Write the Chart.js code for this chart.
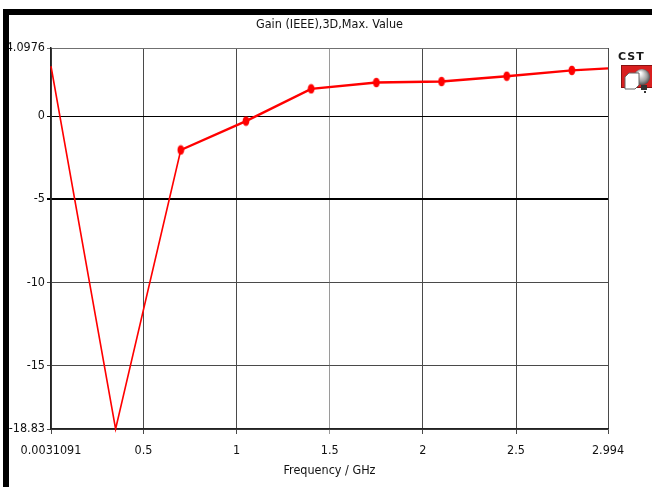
<!DOCTYPE html>
<html>
<head>
<meta charset="utf-8">
<script src="https://cdn.jsdelivr.net/npm/chart.js@4/dist/chart.umd.min.js"></script>
<style>
  html, body { margin: 0; padding: 0; background: #fff; }
  #wrap { position: relative; width: 652px; height: 487px; }
</style>
</head>
<body>
<div id="wrap"><canvas id="c" width="652" height="487"></canvas></div>
<script>
// Gain (IEEE), 3D, max. value versus frequency
const chartTitle = 'Gain (IEEE),3D,Max. Value';
const freqGHz = [0.0031091, 0.35, 0.7, 1.05, 1.4, 1.75, 2.1, 2.45, 2.8, 2.994];
const gainDb  = [3.0, -18.83, -2.04, -0.30, 1.64, 2.02, 2.08, 2.40, 2.75, 2.87];
const markerShown = [false, false, true, true, true, true, true, true, true, false];

const xTickValues = [0.0031091, 0.5, 1, 1.5, 2, 2.5, 2.994];
const xTickLabels = ['0.0031091', '0.5', '1', '1.5', '2', '2.5', '2.994'];
const yTickValues = [-18.83, -15, -10, -5, 0, 4.0976];
const yTickLabels = ['-18.83', '-15', '-10', '-5', '0', '4.0976'];

const FONT = '"DejaVu Sans Condensed", "DejaVu Sans", sans-serif';
const FONT_SIZE = 12.5;

// oval sample marker
const marker = document.createElement('canvas');
marker.width = 8; marker.height = 11;
(function () {
  const g = marker.getContext('2d');
  g.fillStyle = '#ff0000';
  g.beginPath();
  g.ellipse(4, 5.5, 3.4, 4.8, 0, 0, Math.PI * 2);
  g.fill();
})();

// frame bars, centred title and CST badge
const decorations = {
  id: 'decorations',
  beforeDraw(chart) {
    const ctx = chart.ctx;
    ctx.save();
    ctx.fillStyle = '#fff';
    ctx.fillRect(0, 0, chart.width, chart.height);
    ctx.restore();
  },
  afterDraw(chart) {
    const ctx = chart.ctx;
    const area = chart.chartArea;
    ctx.save();
    ctx.fillStyle = '#000';
    ctx.fillRect(3, 9, chart.width - 3, 6);
    ctx.fillRect(3, 9, 6, chart.height - 9);

    // title over the plot area
    ctx.fillStyle = '#111';
    ctx.font = FONT_SIZE + 'px ' + FONT;
    ctx.textAlign = 'center';
    ctx.textBaseline = 'middle';
    ctx.fillText(chartTitle, (area.left + area.right) / 2, 25);

    // CST badge
    ctx.textAlign = 'left';
    ctx.textBaseline = 'alphabetic';
    ctx.fillStyle = '#1a1a1a';
    ctx.font = 'bold 11px "DejaVu Sans", sans-serif';
    ctx.letterSpacing = '1px';
    ctx.fillText('CST', 618, 60);
    ctx.letterSpacing = '0px';
    ctx.fillStyle = '#d81f1f';
    ctx.fillRect(621, 65, 31, 23);
    ctx.strokeStyle = '#8a1010';
    ctx.lineWidth = 1;
    ctx.strokeRect(621.5, 65.5, 31, 22);
    const grad = ctx.createRadialGradient(640, 73, 1, 642, 77, 9);
    grad.addColorStop(0, '#ffffff');
    grad.addColorStop(0.6, '#a0a0a0');
    grad.addColorStop(1, '#3a3a3a');
    ctx.fillStyle = grad;
    ctx.beginPath();
    ctx.arc(642, 77, 8, 0, Math.PI * 2);
    ctx.fill();
    ctx.fillStyle = '#fff';
    ctx.beginPath();
    ctx.moveTo(625, 77); ctx.lineTo(629, 73); ctx.lineTo(639, 73);
    ctx.lineTo(639, 85); ctx.lineTo(635, 89); ctx.lineTo(625, 89);
    ctx.closePath();
    ctx.fill();
    ctx.strokeStyle = '#666';
    ctx.stroke();
    ctx.fillStyle = '#333';
    ctx.fillRect(641, 85, 6, 5);
    ctx.fillRect(644, 91, 2, 2);
    ctx.restore();
  }
};

const points = freqGHz.map((f, i) => ({ x: f, y: gainDb[i] }));

new Chart(document.getElementById('c'), {
  type: 'line',
  data: {
    datasets: [{
      data: points,
      borderColor: '#ff0000',
      backgroundColor: '#ff0000',
      borderWidth: 2.2,
      segment: {
        borderWidth: ctx => (ctx.p0DataIndex < 2 ? 1.6 : 2.4)
      },
      pointStyle: marker,
      pointRadius: markerShown.map(s => (s ? 4 : 0)),
      pointHoverRadius: 0,
      tension: 0,
      clip: false
    }]
  },
  options: {
    responsive: false,
    animation: false,
    events: [],
    layout: { padding: { left: 0, right: 44, top: 48, bottom: 0 } },
    plugins: {
      legend: { display: false },
      tooltip: { enabled: false },
      title: { display: false }
    },
    scales: {
      x: {
        type: 'linear',
        min: 0.0031091,
        max: 2.994,
        afterBuildTicks: s => { s.ticks = xTickValues.map(v => ({ value: v })); },
        afterFit: s => { s.height = 58; },
        ticks: {
          autoSkip: false,
          maxRotation: 0,
          padding: 9,
          color: '#111',
          font: { family: FONT, size: FONT_SIZE },
          callback: (v) => xTickLabels[xTickValues.indexOf(v)]
        },
        grid: {
          color: ctx => {
            const v = ctx.tick && ctx.tick.value;
            return v === 1.5 ? '#9a9a9a' : '#4a4a4a';
          },
          lineWidth: 1,
          tickLength: 5
        },
        border: { color: '#222', width: 1.5 },
        title: {
          display: true,
          text: 'Frequency / GHz',
          color: '#111',
          font: { family: FONT, size: FONT_SIZE },
          padding: { top: 0, bottom: 9 }
        }
      },
      y: {
        type: 'linear',
        min: -18.83,
        max: 4.0976,
        afterBuildTicks: s => { s.ticks = yTickValues.map(v => ({ value: v })); },
        afterFit: s => { s.width = 51; },
        ticks: {
          autoSkip: false,
          padding: 2,
          color: '#111',
          font: { family: FONT, size: FONT_SIZE },
          callback: (v) => yTickLabels[yTickValues.indexOf(v)]
        },
        grid: {
          color: ctx => {
            const v = ctx.tick && ctx.tick.value;
            if (v === 0 || v === -5) return '#000';
            if (v === 4.0976) return '#707070';
            return '#4a4a4a';
          },
          lineWidth: ctx => (ctx.tick && ctx.tick.value === -5 ? 2 : 1),
          tickLength: 4
        },
        border: { color: '#222', width: 1.5 }
      }
    }
  },
  plugins: [decorations]
});
</script>
</body>
</html>
